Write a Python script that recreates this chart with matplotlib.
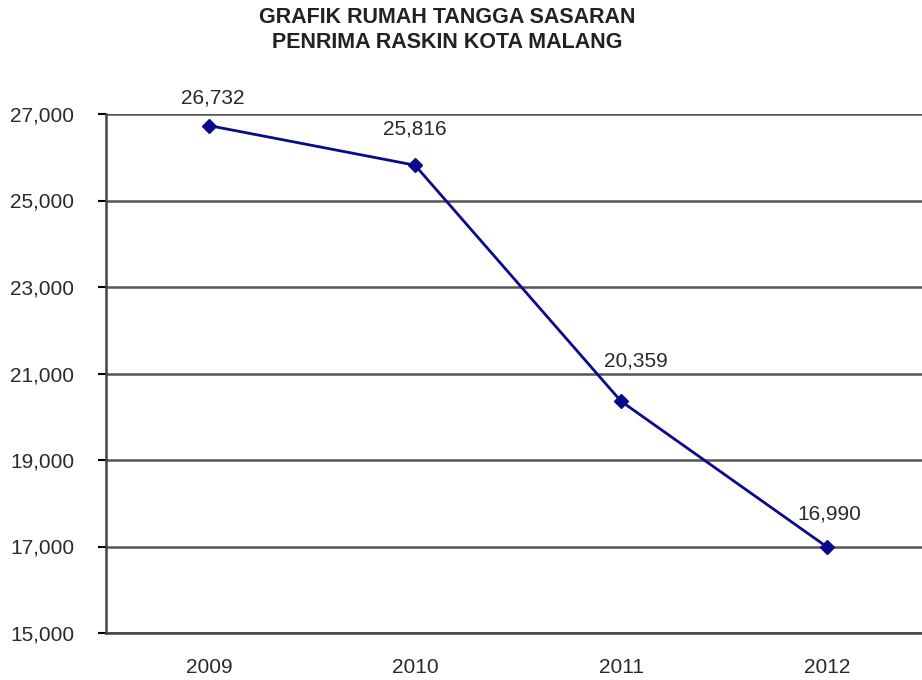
import matplotlib.pyplot as plt
from matplotlib.ticker import FuncFormatter

plt.rcParams['font.family'] = ['Liberation Sans', 'DejaVu Sans']

years = ["2009", "2010", "2011", "2012"]
households = [26732, 25816, 20359, 16990]
y_ticks = [15000, 17000, 19000, 21000, 23000, 25000, 27000]

# hand-placed label offsets (pixels), like the original chart
label_offsets = [(4, 28), (0, 36), (15, 40), (2, 33)]


def main():
    fig = plt.figure(figsize=(9.22, 6.8), dpi=100)
    ax = fig.add_axes([106 / 922, 47 / 680, 824 / 922, 519 / 680])

    x = list(range(len(years)))
    ax.plot(x, households, color="#0a0a8c", linewidth=2, marker="D",
            markersize=7, zorder=3)

    for xi, val, (dx, dy) in zip(x, households, label_offsets):
        ax.annotate(f"{val:,}", (xi, val), xytext=(dx, dy),
                    textcoords="offset pixels", ha="center", va="center",
                    fontsize=15, color="#2a2a2a")

    ax.set_xlim(-0.5, len(years) - 0.5)
    ax.set_ylim(15000, 27000)
    ax.set_xticks(x)
    ax.set_xticklabels(years)
    ax.set_yticks(y_ticks)
    ax.yaxis.set_major_formatter(FuncFormatter(lambda v, p: f"{int(v):,}"))
    ax.tick_params(axis="x", length=0, pad=18, labelsize=15, labelcolor="#2a2a2a")
    ax.tick_params(axis="y", length=6, width=1.5, direction="out", pad=17,
                   labelsize=15, labelcolor="#2a2a2a")

    ax.grid(axis="y", color="#555555", linewidth=1.8)
    ax.set_axisbelow(True)
    for side in ["top", "right"]:
        ax.spines[side].set_visible(False)
    ax.spines["left"].set_linewidth(1.8)
    ax.spines["left"].set_color("#444444")
    ax.spines["bottom"].set_linewidth(1.8)
    ax.spines["bottom"].set_color("#444444")

    fig.text(447 / 922, 1 - 30 / 680,
             "GRAFIK RUMAH TANGGA SASARAN\nPENRIMA RASKIN KOTA MALANG",
             ha="center", va="center", fontsize=15.5, fontweight="bold",
             color="#222222", linespacing=1.2)

    fig.savefig("out.png", dpi=100)


if __name__ == "__main__":
    main()
